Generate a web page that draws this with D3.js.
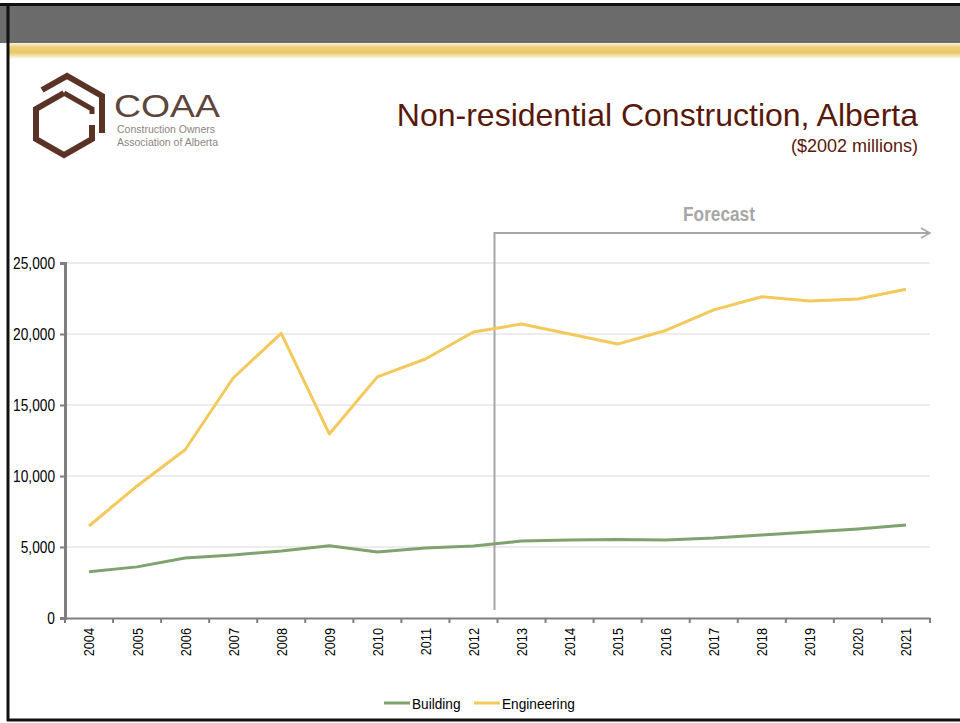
<!DOCTYPE html>
<html>
<head>
<meta charset="utf-8">
<script src="https://cdn.jsdelivr.net/npm/d3@7"></script>
<style>
  body { margin: 0; background: #fff; }
  svg text { font-family: Arial, "Liberation Sans", Helvetica, sans-serif; }
</style>
</head>
<body>
<div class="chart"></div>
<script>
  // data
  var years = ["2004","2005","2006","2007","2008","2009","2010","2011","2012",
               "2013","2014","2015","2016","2017","2018","2019","2020","2021"];
  var building = [3250, 3600, 4220, 4440, 4720, 5090, 4650, 4930, 5070,
                  5420, 5490, 5530, 5490, 5630, 5850, 6060, 6270, 6550];
  var engineering = [6480, 9300, 11850, 16900, 20050, 12960, 16980, 18240, 20140,
                     20700, 20000, 19290, 20250, 21700, 22620, 22320, 22460, 23150];
  var yTicks = [0, 5000, 10000, 15000, 20000, 25000];
  var forecastStart = "2013";

  var w = 960, h = 723;
  var svg = d3.select(".chart").append("svg")
    .attr("width", w)
    .attr("height", h);

  // 窄字体：没有 Arial Narrow，就把文字横向压缩
  function narrow(sel, k) {
    sel.each(function() {
      var len = this.getComputedTextLength();
      d3.select(this).attr("textLength", len * k).attr("lengthAdjust", "spacingAndGlyphs");
    });
  }

  // 页头
  var defs = svg.append("defs");
  var grad = defs.append("linearGradient").attr("id", "band")
    .attr("x1", 0).attr("y1", 0).attr("x2", 0).attr("y2", 1);
  grad.append("stop").attr("offset", "0%").attr("stop-color", "#fbf4e2");
  grad.append("stop").attr("offset", "25%").attr("stop-color", "#ecd27e");
  grad.append("stop").attr("offset", "60%").attr("stop-color", "#e8c766");
  grad.append("stop").attr("offset", "100%").attr("stop-color", "#ffffff");

  svg.append("rect").attr("x", 0).attr("y", 5).attr("width", w).attr("height", 38).attr("fill", "#6b6b6b");
  svg.append("rect").attr("x", 8).attr("y", 43).attr("width", w).attr("height", 16).attr("fill", "url(#band)");

  // border
  svg.append("line").attr("x1", 0).attr("x2", w).attr("y1", 4.5).attr("y2", 4.5)
    .attr("stroke", "#111").attr("stroke-width", 3);
  svg.append("line").attr("x1", 8).attr("x2", 8).attr("y1", 3).attr("y2", 721)
    .attr("stroke", "#111").attr("stroke-width", 3);
  svg.append("line").attr("x1", 7).attr("x2", w).attr("y1", 720).attr("y2", 720)
    .attr("stroke", "#111").attr("stroke-width", 3);

  // logo
  var logo = svg.append("g").attr("fill", "none").attr("stroke", "#5a3326").attr("stroke-width", 6)
    .attr("stroke-linejoin", "miter");
  logo.append("path").attr("d", "M64,93 L36,109 L36,139 L64,155 L92,139 L92,125");
  logo.append("path").attr("d", "M42,90 L67,76 L102,96 L102,133");
  logo.append("path").attr("d", "M64,93 L92,109 L92,114").attr("stroke-width", 5);
  svg.append("text").attr("x", 114).attr("y", 117)
    .attr("font-size", 31).attr("fill", "#5e463c")
    .attr("textLength", 106).attr("lengthAdjust", "spacingAndGlyphs").text("COAA");
  svg.append("text").attr("x", 117).attr("y", 133)
    .attr("font-size", 10.5).attr("fill", "#8c8580").text("Construction Owners");
  svg.append("text").attr("x", 117).attr("y", 146)
    .attr("font-size", 10.5).attr("fill", "#8c8580").text("Association of Alberta");

  // 标题
  svg.append("text").attr("x", 918).attr("y", 126).attr("text-anchor", "end")
    .attr("font-size", 32).attr("fill", "#58190b").text("Non-residential Construction, Alberta");
  svg.append("text").attr("x", 918).attr("y", 152).attr("text-anchor", "end")
    .attr("font-size", 18).attr("fill", "#58190b").text("($2002 millions)");

  // 比例尺
  var x = d3.scaleBand().domain(years).range([65, 930]);
  var y = d3.scaleLinear().domain([0, 25000]).range([618, 263]);
  var cx = function(d) { return x(d) + x.bandwidth() / 2; };

  // gridlines
  svg.append("g").selectAll("line")
    .data(yTicks.slice(1))
    .enter().append("line")
    .attr("x1", 65).attr("x2", 930)
    .attr("y1", function(d) { return y(d); })
    .attr("y2", function(d) { return y(d); })
    .attr("stroke", "#d9d9d9").attr("stroke-width", 1);

  // y axis
  var yAxis = svg.append("g").attr("transform", "translate(65,0)")
    .call(d3.axisLeft(y).tickValues(yTicks).tickSize(5).tickPadding(5)
      .tickFormat(d3.format(",")));
  yAxis.attr("font-family", null);
  yAxis.select(".domain").attr("stroke", "#7f7f7f").attr("stroke-width", 3);
  yAxis.selectAll(".tick line").attr("stroke", "#7f7f7f").attr("stroke-width", 2);
  yAxis.selectAll("text").attr("font-size", 16.5).attr("fill", "#000").call(narrow, 0.83);

  // x axis
  var xAxis = svg.append("g").attr("transform", "translate(0,618)")
    .call(d3.axisBottom(x).tickSize(0).tickSizeOuter(0));
  xAxis.attr("font-family", null);
  xAxis.select(".domain").attr("stroke", "#7f7f7f").attr("stroke-width", 2);
  xAxis.selectAll(".tick text")
    .attr("font-size", 15.5).attr("fill", "#000")
    .attr("transform", "rotate(-90)")
    .attr("text-anchor", "end")
    .attr("x", -10).attr("y", 0).attr("dy", "0.35em")
    .call(narrow, 0.82);
  // 分类边界刻度
  xAxis.append("g").selectAll("line")
    .data(years.concat(["end"]))
    .enter().append("line")
    .attr("x1", function(d, i) { return 65 + i * x.bandwidth(); })
    .attr("x2", function(d, i) { return 65 + i * x.bandwidth(); })
    .attr("y1", 0).attr("y2", 5)
    .attr("stroke", "#7f7f7f").attr("stroke-width", 2);

  // forecast marker
  var fx = x(forecastStart) - 3;
  var fc = svg.append("g").attr("stroke", "#a6a6a6").attr("fill", "none").attr("stroke-width", 2);
  fc.append("path").attr("d", "M" + fx + ",610 L" + fx + ",233 L930,233");
  fc.append("path").attr("d", "M921,228 L930,233 L921,238").attr("stroke-width", 1.5);
  svg.append("text").attr("x", 719).attr("y", 221).attr("text-anchor", "middle")
    .attr("font-size", 21).attr("font-weight", "bold").attr("fill", "#a6a6a6").text("Forecast")
    .call(narrow, 0.82);

  // lines
  var line = d3.line()
    .x(function(d, i) { return cx(years[i]); })
    .y(function(d) { return y(d); });

  var series = [
    { name: "Building", values: building, color: "#7fa26f" },
    { name: "Engineering", values: engineering, color: "#f3c95c" }
  ];

  svg.append("g").selectAll("path")
    .data(series)
    .enter().append("path")
    .attr("d", function(d) { return line(d.values); })
    .attr("fill", "none")
    .attr("stroke", function(d) { return d.color; })
    .attr("stroke-width", 3)
    .attr("stroke-linejoin", "round");

  // legend
  var legendX = [384, 474];
  var lg = svg.append("g").selectAll("g")
    .data(series)
    .enter().append("g")
    .attr("transform", function(d, i) { return "translate(" + legendX[i] + ",703)"; });
  lg.append("line").attr("x1", 0).attr("x2", 26).attr("y1", 0).attr("y2", 0)
    .attr("stroke", function(d) { return d.color; }).attr("stroke-width", 3);
  lg.append("text").attr("x", 28).attr("y", 5.5).attr("font-size", 15.5).attr("fill", "#000")
    .text(function(d) { return d.name; })
    .call(narrow, 0.88);
</script>
</body>
</html>
